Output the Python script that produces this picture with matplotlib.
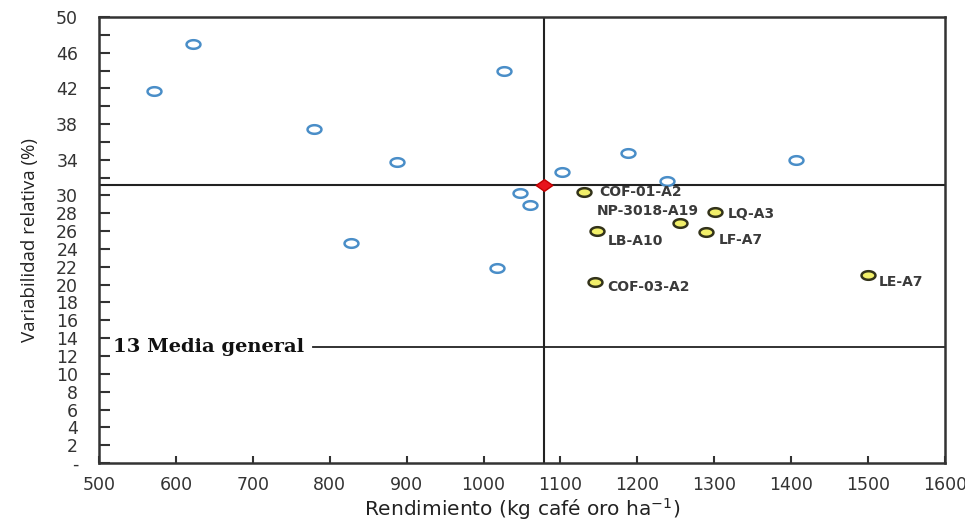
import matplotlib
matplotlib.use("Agg")
import matplotlib.pyplot as plt
import numpy as np
from matplotlib.path import Path

# Datos
rend_azul = [572, 622, 779, 888, 827, 1026, 1017, 1048, 1060, 1102, 1188, 1239, 1406]
var_azul = [41.7, 47.0, 37.5, 33.7, 24.7, 44.0, 21.9, 30.3, 28.9, 32.6, 34.8, 31.6, 34.0]

nombres = ['COF-01-A2', 'NP-3018-A19', 'LQ-A3', 'LB-A10', 'LF-A7', 'COF-03-A2', 'LE-A7']
rend_sel = [1130, 1255, 1301, 1147, 1289, 1145, 1500]
var_sel = [30.4, 26.9, 28.1, 26.0, 25.9, 20.3, 21.1]

media_rend = 1078
media_var = 31.2
media_general = 13

yticks = list(range(0, 52, 2))
ylabels_mostrar = [50, 46, 42, 38, 34, 30, 28, 26, 24, 22, 20, 18, 16, 14, 12, 10, 8, 6, 4, 2]
xticks = list(range(500, 1700, 100))

# la imagen original esta estirada a lo ancho: marcadores achatados
t = np.linspace(0, 2 * np.pi, 60)
elipse = Path(np.column_stack([np.cos(t), 0.62 * np.sin(t)]), closed=True)
rombo = Path([(-1, 0), (0, 0.7), (1, 0), (0, -0.7), (-1, 0)], closed=True)

plt.rcParams['font.family'] = ['DejaVu Sans']

fig = plt.figure(figsize=(9.65, 5.31), dpi=100)
ax = fig.add_axes([0.1026, 0.128, 0.8767, 0.84])

# lineas de las medias
ax.axvline(media_rend, color='#222222', lw=1.5, zorder=1)
ax.axhline(media_var, color='#222222', lw=1.5, zorder=1)
ax.axhline(media_general, xmin=0.253, xmax=1, color='#222222', lw=1.3, zorder=1)
ax.text(518, media_general, f'{media_general} Media general', family='DejaVu Serif',
        fontweight='bold', fontsize=14, va='center', ha='left', color='#111111')

ax.plot(rend_azul, var_azul, ls='none', marker=elipse, ms=10, mfc='white',
        mec='#4a8ec8', mew=1.8, zorder=3)
ax.plot(rend_sel, var_sel, ls='none', marker=elipse, ms=10, mfc='#f2f06a',
        mec='#33331a', mew=1.8, zorder=3)
ax.plot([media_rend], [media_var], ls='none', marker=rombo, ms=12, color='#e8141c',
        mec='#c00000', zorder=4)

# etiquetas de los genotipos (desplazamiento en puntos)
offsets = {
    'COF-01-A2': (11, 0, 'left'),
    'NP-3018-A19': (14, 9, 'right'),
    'LQ-A3': (9, -1, 'left'),
    'LB-A10': (8, -7, 'left'),
    'LF-A7': (9, -6, 'left'),
    'COF-03-A2': (9, -3.5, 'left'),
    'LE-A7': (8, -5, 'left'),
}
for n, x, y in zip(nombres, rend_sel, var_sel):
    dx, dy, ha = offsets[n]
    ax.annotate(n, (x, y), xytext=(dx, dy), textcoords='offset points',
                ha=ha, va='center', fontsize=10, fontweight='bold', color='#3a3a3a')

ax.set_xlim(500, 1600)
ax.set_ylim(0, 50)
ax.set_xticks(xticks)
ax.set_xticklabels([str(v) for v in xticks])
ax.set_yticks(yticks)
ax.set_yticklabels([str(v) if v in ylabels_mostrar else ('-' if v == 0 else '') for v in yticks])

ax.tick_params(axis='both', direction='in', width=1.5, color='#333333',
               labelsize=12.5, labelcolor='#333333')
ax.tick_params(axis='y', length=8, pad=15)
ax.tick_params(axis='x', length=5, pad=9)
for s in ax.spines.values():
    s.set_linewidth(1.8)
    s.set_color('#333333')

ax.set_xlabel('Rendimiento (kg café oro ha$^{-1}$)', fontsize=14.5, color='#222222', labelpad=2)
ax.set_ylabel('Variabilidad relativa (%)', fontsize=13.5, color='#222222', labelpad=12,
              family='Open Sans')

fig.savefig('out.png', dpi=100)
